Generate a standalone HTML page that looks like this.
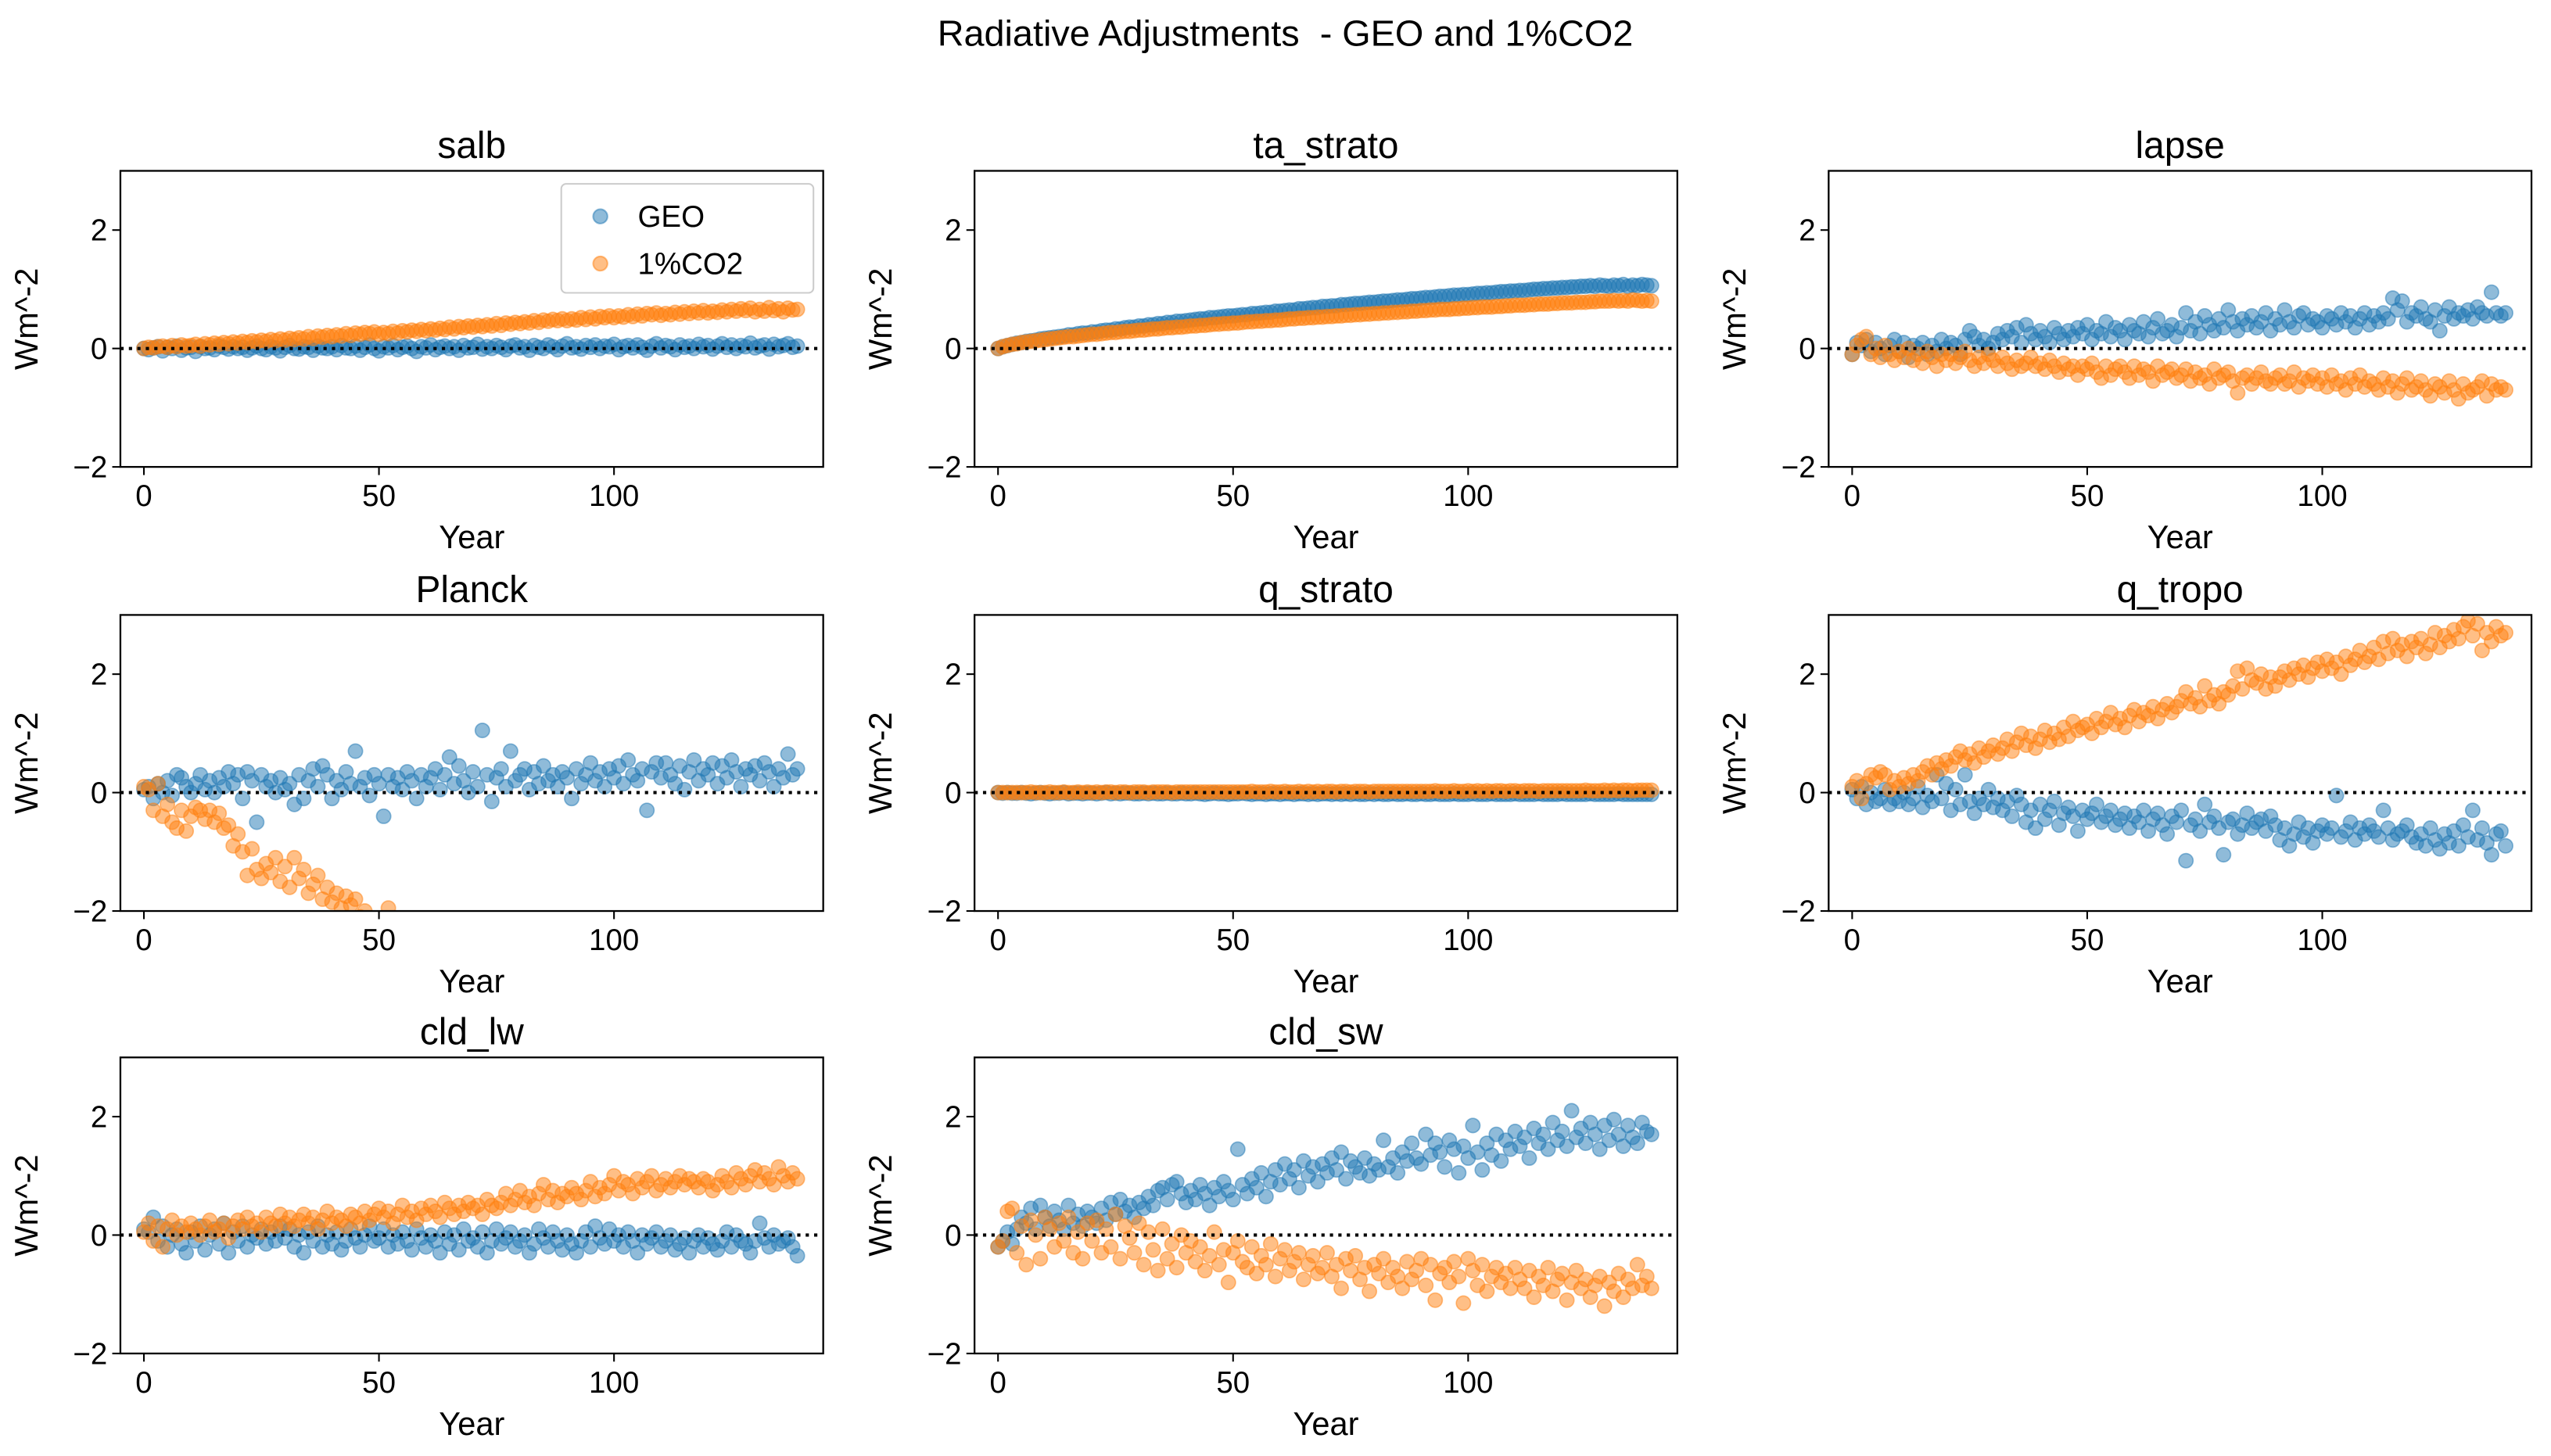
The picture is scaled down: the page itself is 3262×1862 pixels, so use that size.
<!DOCTYPE html>
<html><head><meta charset="utf-8"><style>
html,body{margin:0;padding:0;background:#fff;}
svg{display:block;font-family:"Liberation Sans",Arial,sans-serif;}
</style></head><body>
<svg id="fig" width="3262" height="1862" viewBox="0 0 1568 895" xmlns="http://www.w3.org/2000/svg">
<rect width="1568" height="895" fill="#fff"/>
<text x="790" y="28" font-size="22.5" text-anchor="middle">Radiative Adjustments &#160;- GEO and 1%CO2</text>
</svg>
<script>
const yearTicks = [0, 50, 100];
const valueTicks = [-2, 0, 2];
const seriesNames = ["GEO", "1%CO2"];
const panelTitles = ["salb","ta_strato","lapse","Planck","q_strato","q_tropo","cld_lw","cld_sw"];

const salbGEO = [0,-0.02,0.01,0.03,-0.04,0.02,0,0.04,-0.03,0.01,0.02,-0.05,0.03,0,0.01,-0.02,0.04,0.02,-0.01,0.03,0,0.02,-0.03,0.01,0.04,0,-0.02,0.03,0.01,-0.04,0.02,0.05,0,-0.01,0.03,0.02,-0.03,0.04,0.01,0,0.03,-0.02,0.05,0.01,0,0.04,-0.03,0.02,0.06,0,-0.04,0.03,0.01,0.05,-0.02,0.02,0.04,0,-0.05,0.03,0.01,0.06,-0.02,0.02,0.04,0,0.03,-0.03,0.05,0.01,0.02,0.07,-0.01,0.03,0,0.05,0.02,-0.02,0.04,0.06,0.01,0.03,-0.03,0.05,0.02,0,0.06,0.03,-0.02,0.04,0.08,0.01,0.03,-0.01,0.05,0.02,0.06,0,0.04,0.03,0.07,-0.02,0.03,0.05,0.01,0.06,0.02,-0.03,0.04,0.08,0.01,0.05,0.03,-0.02,0.06,0.02,0.04,0,0.07,0.03,0.05,-0.01,0.04,0.08,0.02,0.06,0,0.05,0.03,0.09,0.01,0.04,0.06,-0.01,0.07,0.03,0.05,0.08,0.02,0.04];
const salbCO2 = [0,0.02,0.01,0.03,0.04,0.02,0.05,0.03,0.06,0.04,0.05,0.07,0.04,0.08,0.06,0.09,0.07,0.1,0.08,0.11,0.09,0.12,0.1,0.13,0.11,0.14,0.12,0.15,0.13,0.16,0.14,0.17,0.15,0.18,0.16,0.2,0.17,0.21,0.19,0.22,0.2,0.23,0.21,0.25,0.22,0.26,0.24,0.27,0.25,0.28,0.24,0.27,0.25,0.29,0.26,0.3,0.28,0.31,0.29,0.32,0.3,0.33,0.31,0.34,0.32,0.36,0.33,0.37,0.35,0.38,0.36,0.39,0.37,0.4,0.38,0.42,0.39,0.43,0.41,0.44,0.42,0.45,0.43,0.47,0.44,0.48,0.46,0.49,0.47,0.5,0.47,0.5,0.48,0.52,0.49,0.53,0.5,0.54,0.52,0.55,0.52,0.55,0.53,0.57,0.54,0.58,0.55,0.59,0.57,0.6,0.56,0.59,0.57,0.61,0.58,0.62,0.59,0.63,0.6,0.64,0.6,0.63,0.61,0.65,0.62,0.66,0.63,0.67,0.64,0.68,0.62,0.66,0.63,0.69,0.64,0.67,0.62,0.68,0.65,0.66];
const taGEO = [0,0.03,0.05,0.07,0.09,0.1,0.12,0.13,0.14,0.16,0.17,0.18,0.19,0.2,0.21,0.23,0.23,0.25,0.26,0.26,0.28,0.28,0.3,0.31,0.31,0.33,0.33,0.35,0.36,0.36,0.38,0.38,0.4,0.4,0.42,0.42,0.44,0.44,0.46,0.46,0.47,0.48,0.49,0.5,0.5,0.52,0.52,0.53,0.54,0.55,0.55,0.56,0.57,0.57,0.59,0.59,0.6,0.61,0.61,0.63,0.63,0.64,0.65,0.65,0.67,0.67,0.68,0.69,0.69,0.71,0.71,0.72,0.72,0.74,0.74,0.75,0.76,0.76,0.77,0.78,0.78,0.79,0.8,0.8,0.81,0.82,0.82,0.83,0.84,0.84,0.85,0.86,0.86,0.87,0.88,0.88,0.89,0.9,0.9,0.91,0.91,0.92,0.93,0.93,0.94,0.94,0.95,0.96,0.96,0.97,0.97,0.98,0.98,0.99,1.0,1.0,1.01,1.01,1.02,1.02,1.03,1.03,1.04,1.04,1.05,1.05,1.06,1.05,1.07,1.06,1.05,1.07,1.06,1.08,1.05,1.07,1.06,1.08,1.07,1.06];
const taCO2 = [0,0.03,0.05,0.07,0.08,0.1,0.11,0.12,0.13,0.14,0.15,0.16,0.17,0.18,0.19,0.2,0.2,0.21,0.22,0.23,0.24,0.24,0.25,0.26,0.27,0.27,0.28,0.29,0.29,0.3,0.31,0.31,0.32,0.33,0.33,0.34,0.35,0.35,0.36,0.36,0.37,0.38,0.38,0.39,0.39,0.4,0.41,0.41,0.42,0.42,0.43,0.43,0.44,0.45,0.45,0.46,0.46,0.47,0.47,0.48,0.48,0.49,0.5,0.5,0.51,0.51,0.52,0.52,0.53,0.53,0.54,0.54,0.55,0.55,0.56,0.56,0.57,0.57,0.58,0.58,0.59,0.59,0.6,0.6,0.61,0.61,0.62,0.62,0.63,0.63,0.64,0.64,0.65,0.65,0.66,0.66,0.66,0.67,0.67,0.68,0.68,0.69,0.69,0.7,0.7,0.7,0.71,0.71,0.72,0.72,0.73,0.73,0.73,0.74,0.74,0.75,0.75,0.75,0.76,0.76,0.77,0.77,0.77,0.78,0.78,0.78,0.79,0.79,0.8,0.8,0.8,0.81,0.8,0.81,0.8,0.82,0.81,0.8,0.81,0.8];
const lapseGEO = [-0.1,0.1,0.05,0.15,-0.05,0.1,0,-0.1,0.05,0.15,-0.05,0.1,-0.15,0.05,0,0.1,-0.1,0.05,-0.05,0.15,0,0.1,0.05,-0.1,0.15,0.3,0.2,0.05,0.15,0,0.1,0.25,0.15,0.3,0.2,0.35,0.1,0.4,0.25,0.15,0.3,0.2,0.1,0.35,0.25,0.15,0.3,0.2,0.35,0.25,0.4,0.15,0.3,0.25,0.45,0.2,0.35,0.3,0.15,0.4,0.3,0.25,0.45,0.2,0.35,0.5,0.25,0.3,0.4,0.2,0.35,0.6,0.3,0.45,0.25,0.55,0.4,0.3,0.5,0.35,0.65,0.45,0.3,0.5,0.4,0.55,0.35,0.45,0.6,0.3,0.5,0.4,0.65,0.45,0.35,0.55,0.6,0.4,0.5,0.45,0.35,0.55,0.5,0.4,0.6,0.45,0.55,0.35,0.5,0.6,0.4,0.55,0.45,0.6,0.5,0.85,0.65,0.8,0.45,0.6,0.55,0.7,0.5,0.45,0.65,0.3,0.55,0.7,0.5,0.6,0.55,0.65,0.5,0.7,0.6,0.55,0.95,0.6,0.55,0.6];
const lapseCO2 = [-0.1,0.05,0.15,0.2,-0.1,0,-0.15,0.05,-0.1,-0.2,-0.05,-0.15,0,-0.2,-0.1,-0.25,-0.05,-0.15,-0.3,-0.1,-0.2,-0.1,-0.25,-0.15,-0.05,-0.2,-0.3,-0.15,-0.25,-0.1,-0.2,-0.3,-0.15,-0.25,-0.35,-0.2,-0.3,-0.25,-0.15,-0.3,-0.25,-0.35,-0.2,-0.3,-0.4,-0.25,-0.35,-0.3,-0.45,-0.3,-0.35,-0.25,-0.4,-0.5,-0.3,-0.45,-0.35,-0.3,-0.4,-0.5,-0.3,-0.45,-0.35,-0.4,-0.55,-0.3,-0.45,-0.4,-0.35,-0.5,-0.45,-0.35,-0.55,-0.4,-0.5,-0.45,-0.6,-0.35,-0.5,-0.45,-0.4,-0.55,-0.75,-0.5,-0.45,-0.6,-0.5,-0.4,-0.55,-0.6,-0.5,-0.45,-0.6,-0.55,-0.4,-0.65,-0.5,-0.55,-0.45,-0.6,-0.5,-0.65,-0.45,-0.6,-0.55,-0.7,-0.5,-0.6,-0.45,-0.65,-0.55,-0.6,-0.7,-0.5,-0.65,-0.55,-0.75,-0.6,-0.5,-0.7,-0.65,-0.55,-0.7,-0.8,-0.6,-0.65,-0.75,-0.55,-0.7,-0.85,-0.6,-0.75,-0.7,-0.65,-0.55,-0.8,-0.6,-0.7,-0.65,-0.7];
const planckGEO = [0.05,0.1,-0.1,0.15,0,0.2,-0.05,0.3,0.25,0.1,0,0.15,0.3,0.05,0.2,0,0.25,0.1,0.35,0.15,0.3,-0.1,0.35,0.2,-0.5,0.3,0.1,0.2,0,0.25,0.05,0.15,-0.2,0.3,-0.1,0.2,0.4,0.1,0.45,0.3,-0.1,0.2,0.05,0.35,0.15,0.7,0.1,0.25,-0.05,0.3,0.15,-0.4,0.3,0.1,0.25,0.05,0.35,0.2,-0.1,0.3,0.1,0.25,0.4,0.05,0.3,0.6,0.15,0.45,0.2,0,0.35,0.1,1.05,0.3,-0.15,0.25,0.4,0.1,0.7,0.2,0.3,0.4,0.05,0.35,0.15,0.45,0.2,0.3,0.1,0.35,0.25,-0.1,0.4,0.15,0.3,0.5,0.2,0.35,0.1,0.4,0.25,0.45,0.15,0.55,0.3,0.2,0.4,-0.3,0.35,0.5,0.25,0.5,0.3,0.15,0.45,0.05,0.35,0.55,0.2,0.4,0.3,0.5,0.15,0.45,0.25,0.55,0.35,0.1,0.4,0.3,0.45,0.2,0.5,0.35,0.1,0.4,0.25,0.65,0.3,0.4];
const planckCO2 = [0.1,0.05,-0.3,0.15,-0.4,-0.2,-0.5,-0.6,-0.3,-0.65,-0.4,-0.25,-0.3,-0.45,-0.3,-0.5,-0.35,-0.6,-0.55,-0.9,-0.7,-1.0,-1.4,-0.95,-1.3,-1.45,-1.2,-1.35,-1.1,-1.5,-1.25,-1.6,-1.1,-1.45,-1.3,-1.7,-1.55,-1.4,-1.8,-1.6,-1.85,-1.7,-1.95,-1.75,-1.9,-1.8,-2.1,-2.0,-2.2,-2.15,-2.2,-2.3,-1.95,-2.4,-2.35,-2.5,-2.45,-2.6,-2.5,-2.7,-2.7,-2.8,-2.75,-2.9,-2.85,-3.0,-2.95,-3.1,-3.0,-3.2,-3.1,-3.2,-3.25,-3.3,-3.3,-3.4,-3.35,-3.5,-3.45,-3.6,-3.5,-3.6,-3.65,-3.7,-3.7,-3.8,-3.75,-3.9,-3.85,-4.0,-3.9,-4.0,-4.05,-4.1,-4.1,-4.2,-4.15,-4.3,-4.25,-4.4,-4.3,-4.4,-4.45,-4.5,-4.5,-4.6,-4.55,-4.7,-4.65,-4.8,-4.7,-4.8,-4.85,-4.9,-4.9,-5.0,-4.95,-5.1,-5.05,-5.2,-5.1,-5.2,-5.25,-5.3,-5.3,-5.4,-5.35,-5.5,-5.45,-5.6,-5.5,-5.6,-5.55,-5.6,-5.6,-5.7,-5.65,-5.7,-5.6,-5.7];
const qsGEO = [0,-0.01,0,-0.01,-0.01,0,-0.01,-0.02,-0.01,0,-0.01,-0.02,-0.01,-0.01,0,-0.02,-0.01,-0.01,-0.02,-0.01,-0.01,-0.02,-0.01,0,-0.02,-0.01,-0.02,-0.01,-0.01,-0.02,-0.02,-0.01,-0.02,-0.01,-0.02,-0.02,-0.01,-0.02,-0.02,-0.01,-0.02,-0.02,-0.01,-0.02,-0.03,-0.02,-0.01,-0.02,-0.02,-0.03,-0.02,-0.02,-0.01,-0.02,-0.03,-0.02,-0.02,-0.03,-0.02,-0.02,-0.03,-0.02,-0.02,-0.03,-0.02,-0.02,-0.03,-0.02,-0.03,-0.02,-0.02,-0.03,-0.02,-0.03,-0.02,-0.03,-0.02,-0.03,-0.03,-0.02,-0.03,-0.02,-0.03,-0.03,-0.02,-0.03,-0.03,-0.02,-0.03,-0.03,-0.02,-0.03,-0.03,-0.02,-0.03,-0.03,-0.03,-0.02,-0.03,-0.03,-0.03,-0.02,-0.03,-0.03,-0.03,-0.02,-0.03,-0.03,-0.03,-0.03,-0.02,-0.03,-0.03,-0.03,-0.03,-0.02,-0.03,-0.03,-0.03,-0.03,-0.02,-0.03,-0.03,-0.03,-0.03,-0.03,-0.02,-0.03,-0.03,-0.03,-0.03,-0.03,-0.02,-0.03,-0.03,-0.03,-0.03,-0.03,-0.03,-0.03];
const qsCO2 = [0,0,0,0,0,0,0,0.01,0,0,0,0.01,0,0,0.01,0,0,0.01,0,0.01,0,0.01,0,0.01,0.01,0,0.01,0.01,0,0.01,0.01,0.01,0,0.01,0.01,0.01,0.01,0,0.01,0.01,0.01,0.01,0.01,0.01,0.01,0.01,0.01,0.01,0.01,0.01,0.01,0.01,0.01,0.01,0.02,0.01,0.01,0.01,0.02,0.01,0.01,0.02,0.01,0.01,0.02,0.01,0.02,0.01,0.02,0.01,0.02,0.02,0.01,0.02,0.02,0.01,0.02,0.02,0.02,0.01,0.02,0.02,0.02,0.02,0.02,0.02,0.02,0.02,0.02,0.02,0.02,0.02,0.02,0.03,0.02,0.02,0.02,0.03,0.02,0.02,0.03,0.02,0.03,0.02,0.03,0.02,0.03,0.03,0.02,0.03,0.03,0.02,0.03,0.03,0.03,0.02,0.03,0.03,0.03,0.03,0.03,0.03,0.03,0.03,0.03,0.04,0.03,0.03,0.03,0.04,0.03,0.04,0.03,0.04,0.04,0.03,0.04,0.04,0.04,0.04];
const qtGEO = [0.05,-0.1,0.1,-0.2,0,-0.15,-0.1,0.05,-0.2,-0.1,-0.15,0,-0.2,-0.1,0.1,-0.25,-0.05,-0.15,0.3,-0.1,0.15,-0.3,0.05,-0.2,0.3,-0.15,-0.35,-0.1,-0.2,0.05,-0.25,-0.1,-0.3,-0.15,-0.4,-0.05,-0.2,-0.5,-0.3,-0.6,-0.2,-0.45,-0.3,-0.15,-0.55,-0.35,-0.25,-0.4,-0.65,-0.3,-0.45,-0.35,-0.2,-0.5,-0.4,-0.3,-0.55,-0.45,-0.35,-0.6,-0.4,-0.5,-0.3,-0.65,-0.45,-0.35,-0.55,-0.7,-0.4,-0.5,-0.3,-1.15,-0.55,-0.45,-0.65,-0.2,-0.5,-0.4,-0.6,-1.05,-0.5,-0.45,-0.7,-0.55,-0.35,-0.6,-0.5,-0.45,-0.65,-0.4,-0.55,-0.8,-0.6,-0.9,-0.7,-0.5,-0.75,-0.6,-0.85,-0.65,-0.55,-0.7,-0.6,-0.05,-0.75,-0.65,-0.5,-0.8,-0.6,-0.7,-0.55,-0.65,-0.75,-0.3,-0.6,-0.8,-0.7,-0.65,-0.55,-0.75,-0.85,-0.7,-0.9,-0.6,-0.8,-0.95,-0.7,-0.85,-0.65,-0.9,-0.55,-0.75,-0.3,-0.8,-0.6,-0.85,-1.05,-0.7,-0.65,-0.9];
const qtCO2 = [0.1,0.2,-0.1,0.15,0.3,0.25,0.35,0.3,0.05,0.2,0.1,0.25,0.15,0.3,0.2,0.35,0.45,0.3,0.5,0.4,0.55,0.45,0.6,0.7,0.55,0.65,0.5,0.75,0.6,0.7,0.8,0.65,0.75,0.9,0.7,0.85,1.0,0.8,0.95,0.75,0.9,1.05,0.85,1.0,0.9,1.1,0.95,1.2,1.05,1.1,1.15,1.0,1.25,1.1,1.2,1.35,1.15,1.25,1.1,1.3,1.4,1.2,1.35,1.3,1.45,1.25,1.4,1.5,1.35,1.45,1.55,1.7,1.5,1.6,1.45,1.8,1.55,1.65,1.5,1.7,1.65,1.8,2.05,1.75,2.1,1.9,1.85,2.0,1.75,1.95,1.8,1.95,2.05,1.9,2.1,2.0,2.15,1.95,2.1,2.2,2.05,2.25,2.1,2.2,2.0,2.3,2.15,2.25,2.4,2.2,2.3,2.45,2.25,2.55,2.35,2.6,2.4,2.5,2.3,2.55,2.45,2.6,2.35,2.5,2.7,2.45,2.65,2.55,2.75,2.6,2.8,2.9,2.65,2.85,2.4,2.7,2.55,2.8,2.65,2.7];
const lwGEO = [0.1,0.05,0.3,-0.1,0.15,-0.2,0,0.1,-0.15,-0.3,0.05,-0.1,0.15,-0.25,0,0.1,-0.15,0.2,-0.3,0.05,-0.1,0.15,-0.2,0,-0.05,0.1,-0.15,0.05,-0.1,0.15,-0.05,0.1,-0.2,0,-0.3,0.05,-0.1,0.15,-0.2,0,-0.15,0.05,-0.25,-0.1,0.1,-0.05,-0.2,0,0.15,-0.1,-0.05,0.1,-0.2,0,-0.15,0.05,-0.1,-0.25,0.1,-0.05,-0.2,0,-0.1,-0.3,0.05,-0.15,0,-0.25,0.1,-0.1,-0.05,-0.2,0.05,-0.3,-0.1,0.1,-0.15,-0.05,0.05,-0.2,-0.1,0,-0.3,-0.15,0.1,-0.05,-0.2,0.05,-0.1,-0.25,0,-0.15,-0.3,-0.1,0.05,-0.2,0.15,-0.05,-0.15,0.1,-0.1,0,-0.2,0.05,-0.1,-0.3,0,-0.15,-0.05,0.05,-0.2,-0.1,0,-0.25,-0.15,-0.05,-0.3,-0.1,0,-0.2,-0.05,-0.15,-0.25,-0.1,0.05,-0.2,0,-0.1,-0.15,-0.3,-0.1,0.2,-0.05,-0.2,0,-0.15,-0.1,-0.05,-0.2,-0.35];
const lwCO2 = [0.05,0.2,-0.1,0.15,-0.2,0.1,0.25,0,0.15,0.05,0.2,0.1,0,0.15,0.25,0.05,0.1,0.2,-0.05,0.15,0.25,0.1,0.3,0.15,0.2,0.05,0.3,0.2,0.15,0.35,0.2,0.3,0.15,0.25,0.35,0.2,0.3,0.1,0.25,0.4,0.2,0.3,0.25,0.15,0.35,0.3,0.2,0.4,0.25,0.35,0.45,0.3,0.4,0.2,0.35,0.5,0.3,0.4,0.25,0.45,0.35,0.5,0.4,0.3,0.55,0.45,0.35,0.5,0.4,0.55,0.45,0.5,0.35,0.6,0.5,0.45,0.55,0.7,0.5,0.6,0.75,0.55,0.65,0.5,0.7,0.85,0.6,0.75,0.55,0.7,0.65,0.8,0.7,0.6,0.75,0.9,0.65,0.8,0.7,0.85,1.0,0.75,0.9,0.85,0.7,0.95,0.8,0.9,1.0,0.75,0.85,0.95,0.8,0.9,1.0,0.85,0.95,0.9,0.8,0.95,0.9,0.75,0.85,1.0,0.9,0.8,1.05,0.95,0.85,1.0,1.1,0.9,1.05,0.95,0.85,1.15,1.0,0.9,1.05,0.95];
const swGEO = [-0.2,-0.1,0.05,-0.15,0.1,0.3,0.2,0.45,0.1,0.5,0.3,0.15,0.4,0.25,0.1,0.5,0.2,0.35,0.15,0.4,0.3,0.2,0.45,0.25,0.55,0.35,0.6,0.4,0.5,0.3,0.55,0.45,0.65,0.5,0.75,0.8,0.6,0.85,0.9,0.7,0.55,0.75,0.6,0.85,0.7,0.5,0.8,0.65,0.9,0.75,0.6,1.45,0.85,0.7,0.95,0.8,1.05,0.65,0.9,1.1,0.85,1.2,0.95,1.1,0.8,1.25,1.0,1.15,0.9,1.2,1.05,1.3,1.1,1.4,0.95,1.25,1.15,1.05,1.3,1.0,1.2,1.1,1.6,1.15,1.3,1.05,1.4,1.25,1.55,1.3,1.2,1.7,1.35,1.55,1.4,1.15,1.6,1.45,1.05,1.5,1.3,1.85,1.4,1.1,1.55,1.35,1.7,1.25,1.6,1.45,1.75,1.5,1.65,1.3,1.8,1.55,1.7,1.45,1.9,1.6,1.75,1.5,2.1,1.65,1.8,1.55,1.9,1.7,1.45,1.85,1.6,1.95,1.7,1.5,1.85,1.65,1.55,1.9,1.75,1.7];
const swCO2 = [-0.2,-0.1,0.4,0.45,-0.3,0.15,-0.5,0.25,0,-0.4,0.3,0.1,-0.2,0.2,-0.1,0.3,-0.3,0.05,-0.4,0.2,-0.1,0.25,-0.3,0.1,-0.2,0.35,-0.4,0.15,-0.05,-0.3,0.2,-0.5,0.05,-0.25,-0.6,0.1,-0.4,-0.15,-0.55,0,-0.3,-0.1,-0.45,-0.2,-0.6,-0.35,0.05,-0.5,-0.25,-0.8,-0.3,-0.1,-0.45,-0.55,-0.2,-0.65,-0.35,-0.5,-0.15,-0.7,-0.4,-0.25,-0.6,-0.45,-0.3,-0.75,-0.5,-0.35,-0.65,-0.55,-0.3,-0.7,-0.5,-0.9,-0.4,-0.6,-0.35,-0.75,-0.55,-0.95,-0.5,-0.65,-0.4,-0.8,-0.55,-0.7,-0.9,-0.45,-0.75,-0.6,-0.4,-0.85,-0.5,-1.1,-0.65,-0.55,-0.8,-0.45,-0.7,-1.15,-0.4,-0.6,-0.85,-0.5,-0.95,-0.7,-0.55,-0.8,-0.65,-0.9,-0.55,-0.75,-0.9,-0.6,-1.05,-0.7,-0.85,-0.55,-0.95,-0.75,-0.65,-1.1,-0.8,-0.6,-0.9,-0.75,-1.05,-0.85,-0.7,-1.2,-0.8,-0.95,-0.65,-1.05,-0.75,-0.9,-0.5,-0.85,-0.7,-0.9];

const panelGEO = [salbGEO, taGEO, lapseGEO, planckGEO, qsGEO, qtGEO, lwGEO, swGEO];
const panelCO2 = [salbCO2, taCO2, lapseCO2, planckCO2, qsCO2, qtCO2, lwCO2, swCO2];

const NS = "http://www.w3.org/2000/svg";
const svg = document.getElementById("fig");
const colLeft = [74, 599, 1124], rowTop = [105, 378, 650];
const AW = 432, AH = 182, XMIN = -5, XMAX = 144.5, YMIN = -2, YMAX = 3;
function mk(tag, attrs, parent) {
  const e = document.createElementNS(NS, tag);
  for (const k in attrs) e.setAttribute(k, attrs[k]);
  (parent || svg).appendChild(e);
  return e;
}
const defs = mk("defs", {});
panelTitles.forEach((title, p) => {
  const L = colLeft[p % 3], T = rowTop[Math.floor(p / 3)];
  const sx = v => L + (v - XMIN) / (XMAX - XMIN) * AW;
  const sy = v => T + (YMAX - v) / (YMAX - YMIN) * AH;
  const g = mk("g", {});
  
  
  const cp = mk("clipPath", { id: "cp" + p }, defs);
  mk("rect", { x: L, y: T, width: AW, height: AH }, cp);
  const t = mk("text", { x: L + AW / 2, y: T - 8, "font-size": 23, "text-anchor": "middle" }, g);
  t.textContent = title;
  
  
  const marks = mk("g", { "clip-path": "url(#cp" + p + ")" }, g);
  
  
  [[panelGEO[p], "#1f77b4", "geo"], [panelCO2[p], "#ff7f0e", "co2"]].forEach(([arr, col, nm]) => {
    arr.forEach((v, i) => {
      const c = mk("circle", { cx: sx(i), cy: sy(v), r: 4.4, fill: col, "fill-opacity": 0.5, stroke: col, "stroke-opacity": 0.5, "stroke-width": 0.8 }, marks);
      
      
    });
  });
  const zl = mk("line", { x1: L, x2: L + AW, y1: sy(0), y2: sy(0), stroke: "#000", "stroke-width": 2, "stroke-dasharray": "2,3.2" }, g);
  
  
  const fr = mk("rect", { x: L, y: T, width: AW, height: AH, fill: "none", stroke: "#000", "stroke-width": 1.1 }, g);
  
  
  yearTicks.forEach(v => {
    mk("line", { x1: sx(v), x2: sx(v), y1: T + AH, y2: T + AH + 5, stroke: "#000" }, g);
    const tl = mk("text", { x: sx(v), y: T + AH + 24, "font-size": 18.5, "text-anchor": "middle" }, g);
    tl.textContent = v;
    
    
  });
  valueTicks.forEach(v => {
    mk("line", { x1: L - 5, x2: L, y1: sy(v), y2: sy(v), stroke: "#000" }, g);
    const tl = mk("text", { x: L - 8, y: sy(v) + 6.5, "font-size": 18.5, "text-anchor": "end" }, g);
    tl.textContent = v < 0 ? "\u2212" + Math.abs(v) : v;
    
    
  });
  const xl = mk("text", { x: L + AW / 2, y: T + AH + 50, "font-size": 20, "text-anchor": "middle" }, g);
  xl.textContent = "Year";
  
  
  const yx = L - 51, yy = T + AH / 2;
  const yl = mk("text", { x: yx, y: yy, "font-size": 20, "text-anchor": "middle", transform: "rotate(-90 " + yx + " " + yy + ")" }, g);
  yl.textContent = "Wm^-2";
  
  
  if (p === 0) {
    const lg = mk("g", {}, g);
    
    
    mk("rect", { x: 345, y: 113, width: 155, height: 67, rx: 3, fill: "#fff", "fill-opacity": 0.8, stroke: "#ccc" }, lg);
    [["#1f77b4", 133], ["#ff7f0e", 162]].forEach(([col, y], k) => {
      mk("circle", { cx: 369, cy: y, r: 4.4, fill: col, "fill-opacity": 0.5, stroke: col, "stroke-opacity": 0.5 }, lg);
      const lt = mk("text", { x: 392, y: y + 6.5, "font-size": 18.5 }, lg);
      lt.textContent = seriesNames[k];
      
      
    });
  }
});
</script>
</body></html>
